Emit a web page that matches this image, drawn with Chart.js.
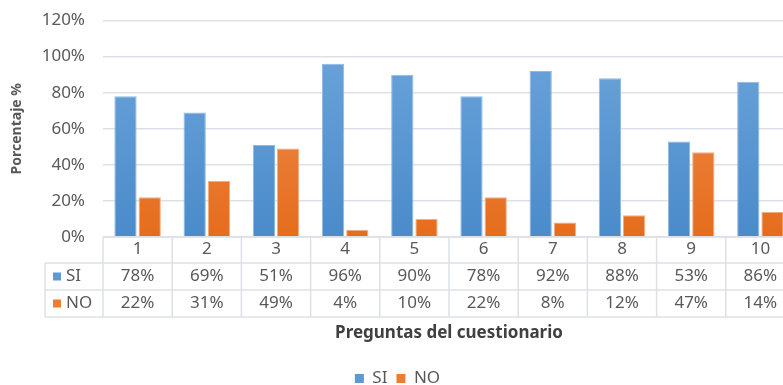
<!DOCTYPE html>
<html>
<head>
<meta charset="utf-8">
<script src="https://cdn.jsdelivr.net/npm/chart.js@4.4.1/dist/chart.umd.min.js"></script>
<style>
  html, body { margin: 0; padding: 0; background: #fff; overflow: hidden; }
  #wrap { width: 795px; height: 385px; position: relative; }
</style>
</head>
<body>
<div id="wrap"><canvas id="chart"></canvas></div>
<script>
// values
const preguntas = ['1', '2', '3', '4', '5', '6', '7', '8', '9', '10'];
const si = [0.78, 0.69, 0.51, 0.96, 0.90, 0.78, 0.92, 0.88, 0.53, 0.86];
const no = [0.22, 0.31, 0.49, 0.04, 0.10, 0.22, 0.08, 0.12, 0.47, 0.14];
const yTicks = [0, 0.2, 0.4, 0.6, 0.8, 1.0, 1.2];

const FONT = "'Noto Sans', 'Open Sans', sans-serif";
const TEXT = '#595959';
const LINE = '#dde1e7';
const BLUE = '#5b9bd5';
const ORANGE = '#ed7d31';

const pct = (v) => Math.round(v * 100) + '%';

function gradient(ctx, top, bottom) {
  const area = ctx.chart.chartArea;
  if (!area) return top;
  const g = ctx.chart.ctx.createLinearGradient(0, area.top, 0, area.bottom);
  g.addColorStop(0, top);
  g.addColorStop(1, bottom);
  return g;
}

// Excel style data table under the x axis
const dataTable = {
  id: 'dataTable',
  afterDraw(chart) {
    const ctx = chart.ctx;
    const x = chart.scales.x;
    const y0 = chart.chartArea.bottom;
    const rowH = 27;
    const headH = 26;
    const legendLeft = 45;
    const step = x.getPixelForValue(1) - x.getPixelForValue(0);
    const left = x.getPixelForValue(0) - step / 2;
    const right = x.getPixelForValue(preguntas.length - 1) + step / 2;
    const rows = [
      { label: 'SI', color: BLUE, values: si },
      { label: 'NO', color: ORANGE, values: no }
    ];
    const r1 = y0 + headH;
    const bottom = r1 + rowH * rows.length;

    ctx.save();
    ctx.strokeStyle = LINE;
    ctx.lineWidth = 1.5;
    ctx.beginPath();
    ctx.moveTo(left, y0); ctx.lineTo(right, y0);
    for (let i = 0; i <= rows.length; i++) {
      const yy = r1 + rowH * i;
      ctx.moveTo(legendLeft, yy); ctx.lineTo(right, yy);
    }
    for (let i = 0; i <= preguntas.length; i++) {
      const xx = left + step * i;
      ctx.moveTo(xx, y0); ctx.lineTo(xx, bottom);
    }
    ctx.moveTo(legendLeft, r1); ctx.lineTo(legendLeft, bottom);
    ctx.stroke();

    ctx.font = '17px ' + FONT;
    ctx.textBaseline = 'middle';
    rows.forEach((row, r) => {
      const cy = r1 + rowH * r + rowH / 2;
      ctx.fillStyle = row.color;
      ctx.fillRect(legendLeft + 8, cy - 4, 8, 8);
      ctx.fillStyle = TEXT;
      ctx.textAlign = 'left';
      ctx.fillText(row.label, legendLeft + 21, cy);
      ctx.textAlign = 'center';
      row.values.forEach((v, i) => {
        ctx.fillText(pct(v), x.getPixelForValue(i), cy);
      });
    });
    ctx.restore();
  }
};

new Chart(document.getElementById('chart'), {
  type: 'bar',
  data: {
    labels: preguntas,
    datasets: [
      {
        label: 'SI',
        data: si,
        backgroundColor: (c) => gradient(c, '#6fa6dc', '#4a8bca'),
        borderColor: '#8dbbe6',
        borderWidth: 1,
        categoryPercentage: 0.7,
        barPercentage: 0.92
      },
      {
        label: 'NO',
        data: no,
        backgroundColor: (c) => gradient(c, '#f09357', '#e56c1c'),
        borderColor: '#f4ad7f',
        borderWidth: 1,
        categoryPercentage: 0.7,
        barPercentage: 0.92
      }
    ]
  },
  options: {
    responsive: true,
    maintainAspectRatio: false,
    animation: false,
    layout: { padding: { top: 0, left: 0, right: 0, bottom: -12 } },
    plugins: {
      tooltip: { enabled: false },
      legend: {
        position: 'bottom',
        labels: {
          color: TEXT,
          font: { family: FONT, size: 17 },
          boxWidth: 9,
          boxHeight: 9,
          padding: 9,
          generateLabels: (chart) => chart.data.datasets.map((d, i) => ({
            text: d.label,
            fillStyle: i === 0 ? BLUE : ORANGE,
            strokeStyle: i === 0 ? BLUE : ORANGE,
            lineWidth: 0,
            fontColor: TEXT,
            datasetIndex: i
          }))
        }
      }
    },
    scales: {
      x: {
        grid: { display: false, drawTicks: false },
        border: { display: false },
        ticks: { color: TEXT, font: { family: FONT, size: 17 }, padding: 2, maxRotation: 0 },
        title: {
          display: true,
          text: 'Preguntas del cuestionario',
          color: '#404040',
          font: { family: FONT, size: 17, weight: 'bold' },
          padding: { top: 0, bottom: 18 }
        },
        afterFit: (axis) => { axis.height = 124; }
      },
      y: {
        min: 0,
        max: 1.2,
        afterBuildTicks: (axis) => { axis.ticks = yTicks.map((v) => ({ value: v })); },
        grid: { color: LINE, lineWidth: 1.5, drawTicks: false },
        border: { display: false },
        ticks: {
          color: TEXT,
          font: { family: FONT, size: 17 },
          padding: 18,
          callback: (v) => pct(v)
        },
        title: {
          display: true,
          text: 'Porcentaje %',
          color: '#595959',
          font: { family: FONT, size: 14, weight: 'bold' },
          padding: { top: 9, bottom: 0 }
        },
        afterFit: (axis) => {
          axis.width = 103;
          axis.paddingTop = 20.5;
        }
      }
    }
  },
  plugins: [dataTable]
});
</script>
</body>
</html>
